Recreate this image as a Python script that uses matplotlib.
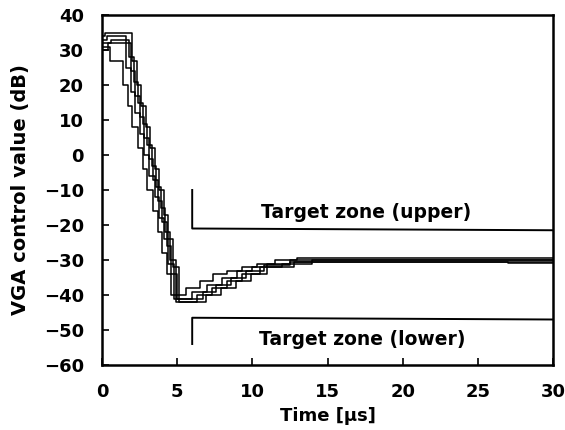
import matplotlib
matplotlib.use("Agg")
import matplotlib.pyplot as plt

# ---- data ----
trace1_t = [0, 0.5, 1.4, 1.7, 2.0, 2.4, 2.7, 3.0, 3.4, 3.7, 4.0, 4.3, 4.6, 5.6, 6.5, 7.4, 8.3, 9.3, 10.3, 11.5, 13.0, 30]
trace1_v = [31, 27, 20, 14, 8, 2, -4, -10, -16, -22, -28, -34, -40, -38, -36, -34, -33, -32, -31, -30, -29.5, -29.5]

trace2_t = [0, 0.3, 1.6, 1.9, 2.2, 2.5, 2.8, 3.1, 3.5, 3.8, 4.1, 4.4, 4.8, 6.0, 7.0, 8.0, 9.0, 10.0, 11.0, 12.5, 30]
trace2_v = [33, 34, 25, 18, 12, 6, 0, -6, -12, -18, -24, -31, -41, -39, -37, -35, -33, -32, -31, -30, -30]

trace3_t = [0, 0.6, 1.8, 2.1, 2.4, 2.7, 3.0, 3.3, 3.6, 3.9, 4.2, 4.5, 4.9, 6.3, 7.3, 8.3, 9.3, 10.5, 12.0, 14.0, 30]
trace3_v = [32, 33, 28, 21, 15, 9, 3, -3, -9, -15, -22, -30, -42, -40, -38, -36, -34, -32, -31, -30, -30]

trace4_t = [0, 0.4, 1.9, 2.2, 2.5, 2.8, 3.1, 3.4, 3.7, 4.0, 4.3, 4.6, 5.0, 6.7, 7.6, 8.6, 9.6, 10.8, 12.5, 30]
trace4_v = [30, 32, 24, 17, 11, 5, -1, -7, -13, -19, -26, -34, -41, -39, -37, -35, -33, -31.5, -30.5, -30.5]

trace5_t = [0, 0.2, 2.0, 2.3, 2.6, 2.9, 3.2, 3.5, 3.8, 4.1, 4.4, 4.7, 5.1, 6.9, 7.9, 8.9, 9.9, 11.0, 12.8, 27.0, 30]
trace5_v = [34, 35, 27, 20, 14, 8, 2, -4, -10, -17, -24, -32, -42, -40, -38, -36, -34, -32, -30.5, -30.8, -30.8]

upper_zone_x = [6, 6, 30]
upper_zone_y = [-10, -21, -21.5]
lower_zone_x = [6, 6, 30]
lower_zone_y = [-54, -46.5, -47]

x_ticks = [0, 5, 10, 15, 20, 25, 30]
y_ticks = [40, 30, 20, 10, 0, -10, -20, -30, -40, -50, -60]

plt.rcParams['font.family'] = ['DejaVu Sans']
fig = plt.figure(figsize=(5.65, 4.3), dpi=100)
ax = fig.add_axes([102/565, 1 - 365/430, (553 - 102)/565, (365 - 15)/430])

for tt, vv in [(trace1_t, trace1_v), (trace2_t, trace2_v), (trace3_t, trace3_v),
               (trace4_t, trace4_v), (trace5_t, trace5_v)]:
    ax.step(tt, vv, where='post', color='black', lw=1.1)

ax.plot(upper_zone_x, upper_zone_y, color='black', lw=1.4)
ax.plot(lower_zone_x, lower_zone_y, color='black', lw=1.4)
ax.text(17.6, -16.5, "Target zone (upper)", ha='center', va='center', fontsize=13.5, fontweight='bold')
ax.text(17.3, -52.8, "Target zone (lower)", ha='center', va='center', fontsize=13.5, fontweight='bold')

ax.set_xlim(0, 30)
ax.set_ylim(-60, 40)
ax.set_xticks(x_ticks)
ax.set_yticks(y_ticks)
ax.tick_params(direction='in', length=5, width=1.2, labelsize=13)
ax.tick_params(axis='x', pad=13)
ax.tick_params(axis='y', pad=13)
for lab in ax.get_xticklabels() + ax.get_yticklabels():
    lab.set_fontweight('bold')
for s in ax.spines.values():
    s.set_linewidth(1.8)

ax.set_xlabel("Time [μs]", fontsize=13, fontweight='bold', labelpad=4)
ax.set_ylabel("VGA control value (dB)", fontsize=14, fontweight='bold', labelpad=10)

fig.savefig("out.png", dpi=100)
